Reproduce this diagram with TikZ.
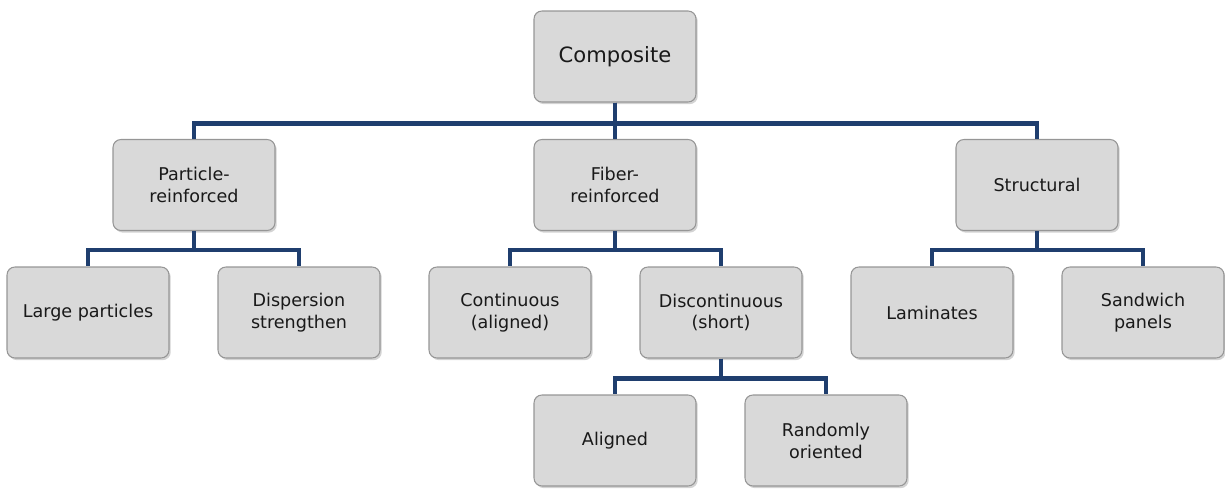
\documentclass[tikz,border=0pt]{standalone}
\usepackage{fontspec}
\setmainfont{DejaVu Sans}
\usepackage{xcolor}
\usepackage{tikz}
\usetikzlibrary{shadows}
\definecolor{boxfill}{RGB}{217,217,217}
\definecolor{boxline}{RGB}{150,150,150}
\definecolor{linkblue}{RGB}{31,62,110}

\begin{document}
\begin{tikzpicture}[x=0.02cm, y=0.02cm,
  box/.style={draw=boxline, fill=boxfill, line width=0.6pt, rounded corners=4.5pt,
    minimum width=3.24cm, minimum height=1.82cm, align=center, inner sep=2pt,
    font=\fontsize{10}{12.5}\selectfont, text=black!90,
    drop shadow={shadow xshift=1pt, shadow yshift=-1.2pt, opacity=0.35}},
  link/.style={linkblue, line width=2.3pt}]
\useasboundingbox (0,0) rectangle (1225,-489);
% boxes: name / x / y / label
\node[box, font=\fontsize{12}{14}\selectfont] (comp) at (615,-56.5) {Composite};
\foreach \n/\x/\y/\t in {part/194/-185/{Particle-\\reinforced},
    fiber/615/-185/{Fiber-\\reinforced},
    struct/1037/-185/{Structural},
    large/88/-312.5/{Large particles},
    disp/299/-312.5/{Dispersion\\strengthen},
    cont/510/-312.5/{Continuous\\(aligned)},
    disc/721/-312.5/{Discontinuous\\(short)},
    lam/932/-312.5/{Laminates},
    sand/1143/-312.5/{Sandwich\\panels},
    algn/615/-440.5/{Aligned},
    rand/826/-440.5/{Randomly\\oriented}} {
  \node[box] (\n) at (\x,\y) {\t};
}
% tree links
\draw[link] (comp.south) -- (fiber.north);
\foreach \c in {part,struct} {
  \draw[link] (comp.south) -- ++(0,-21) -| (\c.north);
}
\foreach \p/\c in {part/large,part/disp,fiber/cont,fiber/disc,struct/lam,struct/sand} {
  \draw[link] (\p.south) -- ++(0,-19) -| (\c.north);
}
\foreach \c in {algn,rand} {
  \draw[link] (disc.south) -- ++(0,-20) -| (\c.north);
}
\end{tikzpicture}
\end{document}
